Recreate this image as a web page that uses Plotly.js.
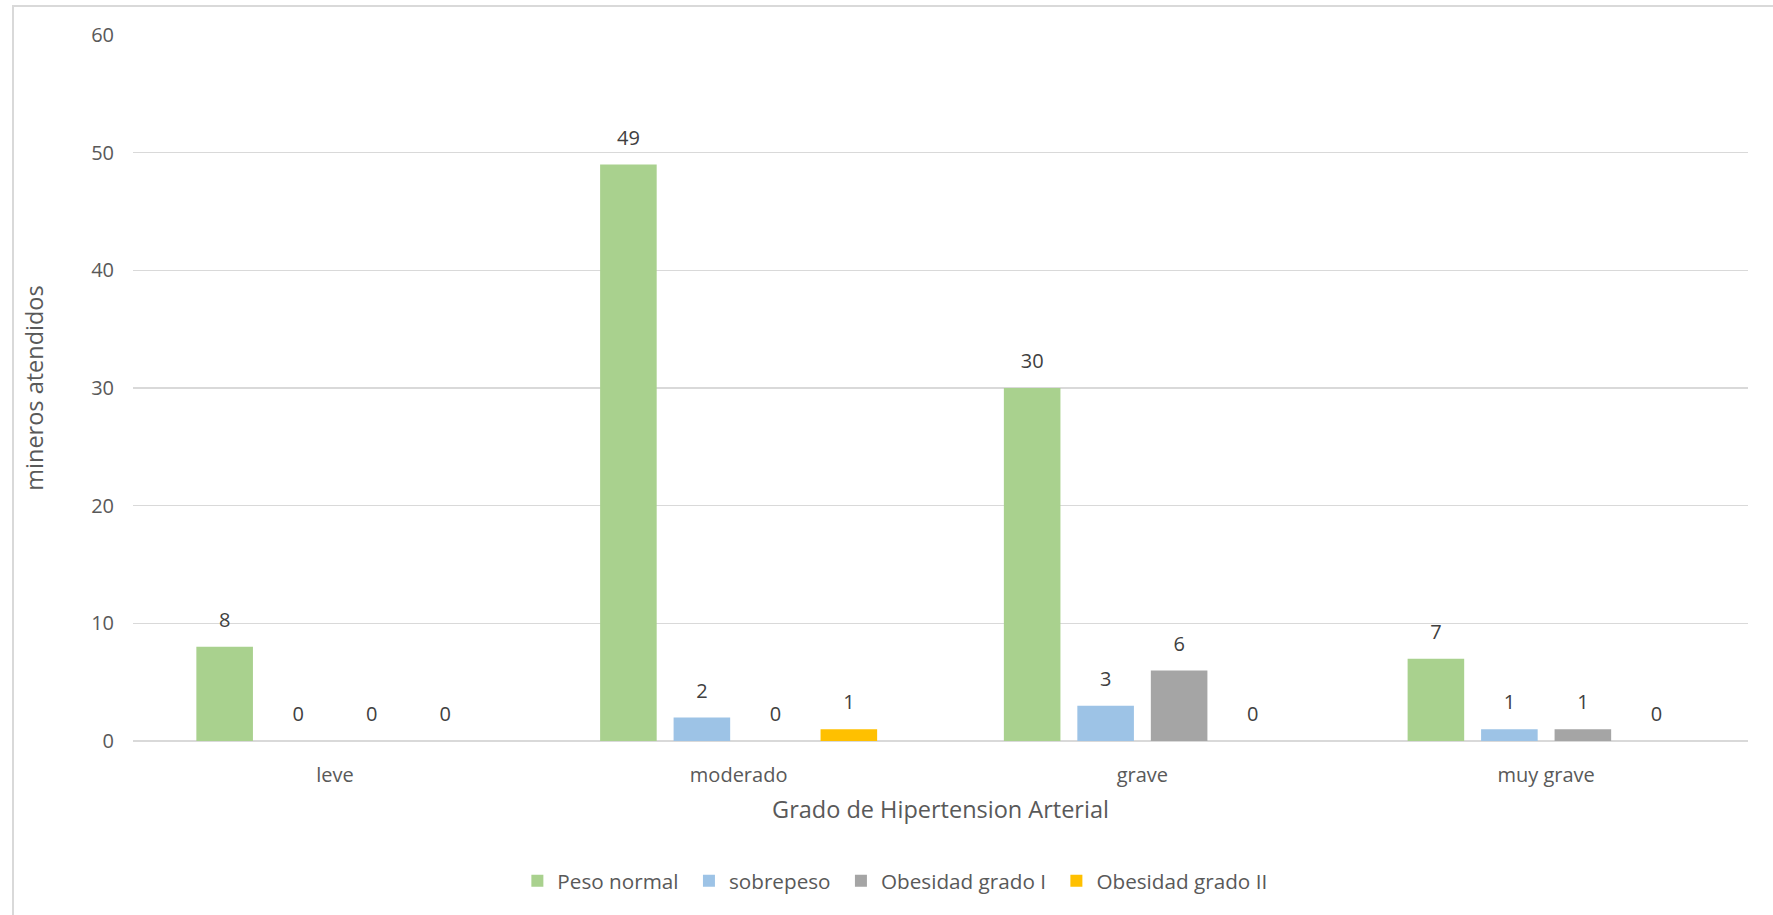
<!DOCTYPE html>
<html>
<head>
<meta charset="utf-8">
<script src="https://cdn.plot.ly/plotly-3.0.1.min.js"></script>
<style>
html,body{margin:0;padding:0;background:#fff;overflow:hidden;}
#chart{width:1773px;height:915px;}
#frame{position:absolute;left:12px;top:5px;width:1800px;height:950px;border:2px solid #d9d9d9;pointer-events:none;}
</style>
</head>
<body>
<div id="chart"></div>
<div id="frame"></div>
<script>
const categories = ["leve", "moderado", "grave", "muy grave"];
const seriesNames = ["Peso normal", "sobrepeso", "Obesidad grado I", "Obesidad grado II"];
const pesoNormal = [8, 49, 30, 7];
const sobrepeso = [0, 2, 3, 1];
const obesidadI = [0, 0, 6, 1];
const obesidadII = [0, 1, 0, 0];
const yTicks = [0, 10, 20, 30, 40, 50, 60];
const colors = ["#A9D18E", "#9DC3E6", "#A5A5A5", "#FFC000"];

const values = [pesoNormal, sobrepeso, obesidadI, obesidadII];
const FONT = "'Open Sans', 'Noto Sans', sans-serif";
const BARGAP = 0.272;

const barTraces = values.map((v, i) => ({
  type: "bar",
  name: seriesNames[i] + "\u00a0",
  x: categories,
  y: v,
  marker: {color: colors[i], line: {width: 0}},
  hoverinfo: "x+y+name"
}));

const labelTraces = values.map((v, i) => ({
  type: "scatter",
  mode: "markers+text",
  name: seriesNames[i],
  showlegend: false,
  x: categories,
  y: v,
  text: v.map(String),
  textposition: "top center",
  cliponaxis: false,
  marker: {size: 22, color: "rgba(0,0,0,0)"},
  textfont: {family: FONT, size: 20, color: "#404040"},
  hoverinfo: "skip"
}));

const layout = {
  width: 1773,
  height: 915,
  margin: {l: 133, r: 25, t: 35, b: 174},
  paper_bgcolor: "#ffffff",
  plot_bgcolor: "#ffffff",
  font: {family: FONT, color: "#595959", size: 20},
  barmode: "group",
  bargap: BARGAP,
  bargroupgap: 0.23,
  scattermode: "group",
  scattergap: BARGAP,
  showlegend: true,
  legend: {
    orientation: "h",
    x: 0.238, xanchor: "left",
    y: -0.198, yanchor: "middle",
    font: {family: FONT, size: 20.7, color: "#595959"},
    itemwidth: 30,
    traceorder: "normal"
  },
  xaxis: {
    type: "category",
    showgrid: false,
    showline: false,
    zeroline: false,
    ticks: "",
    ticklabelstandoff: 20,
    tickfont: {family: FONT, size: 20, color: "#595959"},
    title: {text: "Grado de Hipertension Arterial", font: {family: FONT, size: 23.5, color: "#595959"}, standoff: 14}
  },
  yaxis: {
    range: [0, 60],
    tickvals: yTicks,
    ticktext: yTicks.map(String),
    showgrid: true,
    gridcolor: "#D9D9D9",
    gridwidth: 1.5,
    zeroline: true,
    zerolinecolor: "#D9D9D9",
    zerolinewidth: 1.5,
    showline: false,
    ticks: "",
    ticklabelstandoff: 18,
    tickfont: {family: FONT, size: 20, color: "#595959"},
    title: {text: "mineros atendidos", font: {family: FONT, size: 23.5, color: "#595959"}, standoff: 40}
  }
};

Plotly.newPlot("chart", barTraces.concat(labelTraces), layout, {displayModeBar: false, staticPlot: true});
</script>
</body>
</html>
